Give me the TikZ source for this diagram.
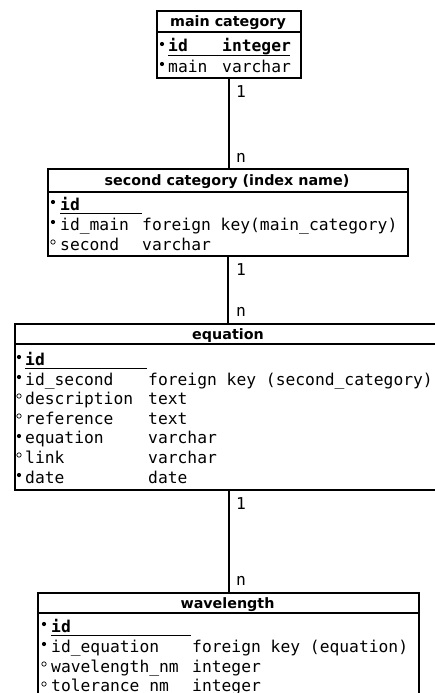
\documentclass[tikz,border=0pt]{standalone}
\usepackage{fontspec}
\setmonofont{DejaVu Sans Mono}
\setsansfont{DejaVu Sans}
\begin{document}
\begin{tikzpicture}[x=1pt,y=-1pt,
  tbl/.style={draw, line width=2pt, rectangle, inner sep=0pt, anchor=north west},
  hdr/.style={font=\sffamily\bfseries\fontsize{14.3}{16}\selectfont, inner sep=0pt, anchor=base},
  fld/.style={font=\ttfamily\fontsize{16.3}{19}\selectfont, inner sep=0pt, anchor=base west},
  keyfld/.style={font=\ttfamily\bfseries\fontsize{16.3}{19}\selectfont, inner sep=0pt, anchor=base west},
  card/.style={font=\ttfamily\fontsize{16.3}{19}\selectfont, inner sep=0pt, anchor=base west},
  sep/.style={line width=2pt},
  conn/.style={line width=2pt},
  uline/.style={line width=1pt},
  must/.style={fill=black},
  opt/.style={draw=black, line width=0.7pt}
]
\useasboundingbox (0,0) rectangle (435,693);
\clip (0,0) rectangle (435,693);

% ---------- main category ----------
\node[tbl, minimum width=144pt, minimum height=67pt] (main) at (156,10) {};
\draw[sep] (156,32) -- (300,32);
\node[hdr] (mainH) at (228,26.5) {main category};
\fill[must] (162,44) circle (2.1);
\node[keyfld] (m1) at (168,52) {id};
\node[keyfld] (m1t) at (222,52) {integer};
\draw[uline] (168,55.5) -- (290,55.5);
\fill[must] (162,64) circle (2.1);
\node[fld] (m2) at (168,72) {main};
\node[fld] (m2t) at (222,72) {varchar};

% ---------- second category ----------
\node[tbl, minimum width=360pt, minimum height=87pt] (second) at (47,168) {};
\draw[sep] (47,192) -- (407,192);
\node[hdr] (secondH) at (227,185.5) {second category (index name)};
\fill[must] (53,202) circle (2.1);
\node[keyfld] (s1) at (60,210) {id};
\draw[uline] (60,213.5) -- (142,213.5);
\fill[must] (53,222) circle (2.1);
\node[fld] (s2) at (60,230) {id\_main};
\node[fld] (s2t) at (142,230) {foreign key(main\_category)};
\draw[opt] (53,242) circle (2.2);
\node[fld] (s3) at (60,250) {second};
\node[fld] (s3t) at (142,250) {varchar};

% ---------- equation ----------
\node[tbl, minimum width=436pt, minimum height=166pt] (eq) at (14,323) {};
\draw[sep] (14,344) -- (450,344);
\node[hdr] (eqH) at (228,339) {equation};
\fill[must] (19,357) circle (2.1);
\node[keyfld] (e1) at (25,365) {id};
\draw[uline] (25,368.5) -- (147,368.5);
\fill[must] (19,377) circle (2.1);
\node[fld] (e2) at (25,385) {id\_second};
\node[fld] (e2t) at (148,385) {foreign key (second\_category)};
\draw[opt] (19,396) circle (2.2);
\node[fld] (e3) at (25,404) {description};
\node[fld] (e3t) at (148,404) {text};
\draw[opt] (19,416) circle (2.2);
\node[fld] (e4) at (25,424) {reference};
\node[fld] (e4t) at (148,424) {text};
\fill[must] (19,436) circle (2.1);
\node[fld] (e5) at (25,443.5) {equation};
\node[fld] (e5t) at (148,443.5) {varchar};
\draw[opt] (19,455) circle (2.2);
\node[fld] (e6) at (25,463) {link};
\node[fld] (e6t) at (148,463) {varchar};
\fill[must] (19,475) circle (2.1);
\node[fld] (e7) at (25,483) {date};
\node[fld] (e7t) at (148,483) {date};

% ---------- wavelength ----------
\node[tbl, minimum width=381pt, minimum height=130pt] (wl) at (37,592) {};
\draw[sep] (37,613) -- (418,613);
\node[hdr] (wlH) at (227.5,608) {wavelength};
\fill[must] (44,624) circle (2.1);
\node[keyfld] (w1) at (51,632) {id};
\draw[uline] (51,635.5) -- (191,635.5);
\fill[must] (44,644) circle (2.1);
\node[fld] (w2) at (51,652) {id\_equation};
\node[fld] (w2t) at (192,652) {foreign key (equation)};
\draw[opt] (44,664) circle (2.2);
\node[fld] (w3) at (51,672) {wavelength\_nm};
\node[fld] (w3t) at (192,672) {integer};
\draw[opt] (44,684) circle (2.2);
\node[fld] (w4) at (51,691) {tolerance nm};
\node[fld] (w4t) at (192,691) {integer};

% ---------- connectors ----------
\draw[conn] (main.south) -- (main.south |- second.north);
\node[card] (c1a) at (236,97) {1};
\node[card] (c1b) at (236,162) {n};

\draw[conn] (second.south) -- (second.south |- eq.north);
\node[card] (c2a) at (236,275) {1};
\node[card] (c2b) at (236,316) {n};

\draw[conn] (wl.north |- eq.south) -- (wl.north);
\node[card] (c3a) at (236,509) {1};
\node[card] (c3b) at (236,585) {n};
\end{tikzpicture}
\end{document}
